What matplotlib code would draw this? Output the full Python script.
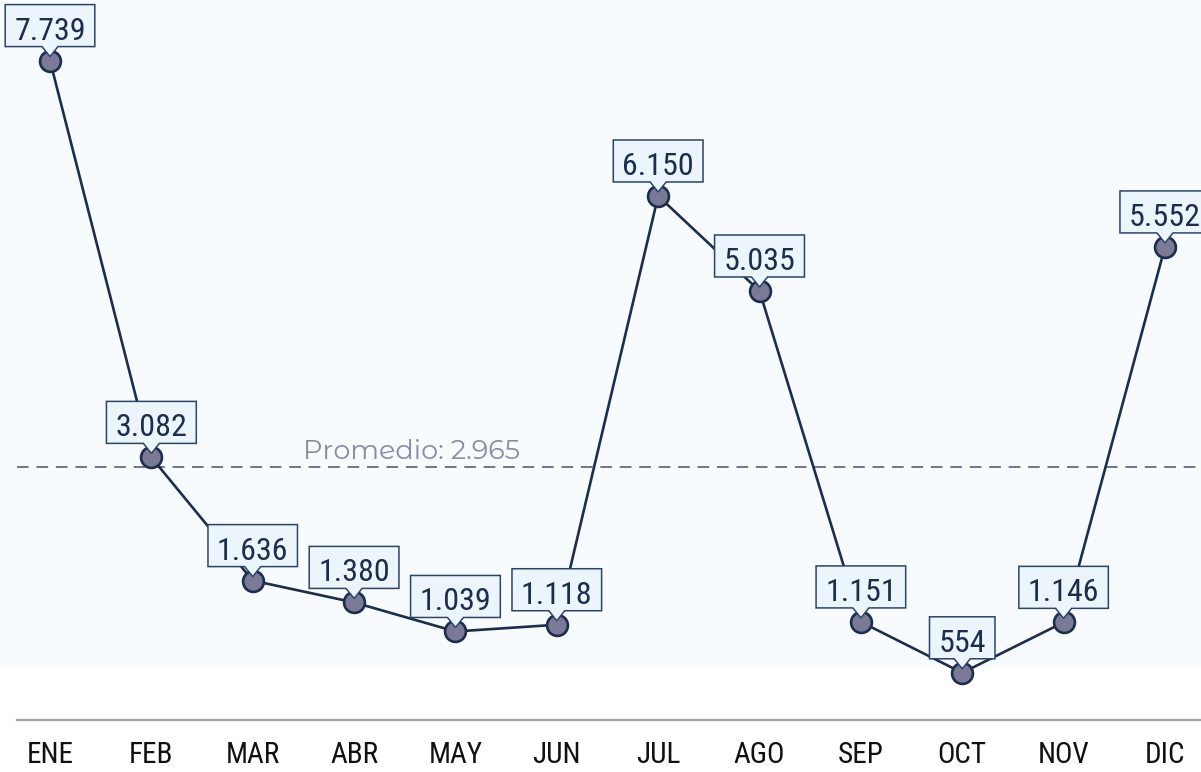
import matplotlib
matplotlib.use("Agg")
import matplotlib.pyplot as plt
from matplotlib.path import Path
from matplotlib.patches import Rectangle
from matplotlib import font_manager as fm
import matplotlib.transforms as mtransforms
import numpy as np

months = ["ENE", "FEB", "MAR", "ABR", "MAY", "JUN", "JUL", "AGO", "SEP", "OCT", "NOV", "DIC"]
values = [7739, 3082, 1636, 1380, 1039, 1118, 6150, 5035, 1151, 554, 1146, 5552]

NAVY = "#1c2d4d"
MARKER_FILL = "#7b7a96"
BOX_FILL = "#edf5fc"
BOX_EDGE = "#2c4468"
BG = "#f7fbfe"


def pick_font(families):
    for fam in families:
        for f in fm.fontManager.ttflist:
            fn = f.fname.split("/")[-1]
            if (f.name == fam and f.style == "normal" and f.weight in (400, "normal", "regular")
                    and "[" not in fn and "Italic" not in fn):
                return fm.FontProperties(fname=f.fname)
    return fm.FontProperties(family="DejaVu Sans")


W, H, DPI = 1201, 772, 100
fig = plt.figure(figsize=(W / DPI, H / DPI), dpi=DPI, facecolor="white")

# pale background band
fig.patches.append(Rectangle((0, 1 - 667 / H), 1, 667 / H, transform=fig.transFigure,
                             facecolor=BG, edgecolor="none", zorder=-10))

ax = fig.add_axes([17 / W, 1 - 720 / H, (W - 17) / W, 720 / H])
ax.set_facecolor("none")

x = np.arange(len(months))
step = 101.36
ax.set_xlim((17 - 50) / step, (W - 50) / step)
ax.set_ylim(0, 8450)

for s in ["top", "right", "left"]:
    ax.spines[s].set_visible(False)
ax.spines["bottom"].set_color("#a3a3a3")
ax.spines["bottom"].set_linewidth(1.6)
ax.set_yticks([])
ax.set_xticks(x)
cond = ["Roboto Condensed", "DejaVu Sans"]
ax.set_xticklabels(months, fontsize=21, color="#111111", family=cond)
ax.tick_params(axis="x", length=0, pad=15)

# average line
avg = float(np.mean(values))
ax.axhline(avg, color="#6e7591", lw=1.4, ls=(0, (6, 4)), zorder=1)
avg_label = "Promedio: " + f"{round(avg):,}".replace(",", ".")
trans = mtransforms.blended_transform_factory(ax.transAxes, ax.transData)
mont = pick_font(["Montserrat", "Montserrat Alternates"])
mont.set_size(19.5)
ax.annotate(avg_label, xy=(0.3336, avg), xycoords=trans, xytext=(0, 8),
            textcoords="offset pixels", ha="center", va="baseline",
            fontproperties=mont, color="#8b8aa5", zorder=2)

# line + markers
ax.plot(x, values, color=NAVY, lw=1.9, zorder=3, clip_on=False)
ax.plot(x, values, ls="none", marker="o", ms=15, mfc=MARKER_FILL, mec=NAVY,
        mew=1.9, zorder=4, clip_on=False)


def callout(x0, y0, width, height, mutation_size):
    padx = 9
    pad_top = 12
    pad_bot = 1
    L = x0 - padx
    R = x0 + width + padx
    B = y0 - pad_bot
    T = y0 + height + pad_top
    cx = (L + R) / 2
    hw = 8
    th = 10
    verts = [(L, B), (cx - hw, B), (cx, B - th), (cx + hw, B), (R, B), (R, T), (L, T), (L, B)]
    codes = [Path.MOVETO] + [Path.LINETO] * 6 + [Path.CLOSEPOLY]
    return Path(verts, codes)


for xi, v in zip(x, values):
    lbl = f"{v:,}".replace(",", ".")
    ax.annotate(lbl, xy=(xi, v), xytext=(0, 21), textcoords="offset pixels",
                ha="center", va="baseline", fontsize=23, color=NAVY, family=cond,
                bbox=dict(boxstyle=callout, fc=BOX_FILL, ec=BOX_EDGE, lw=1.1),
                zorder=6, annotation_clip=False)

fig.savefig("out.png", dpi=DPI, facecolor=fig.get_facecolor())
